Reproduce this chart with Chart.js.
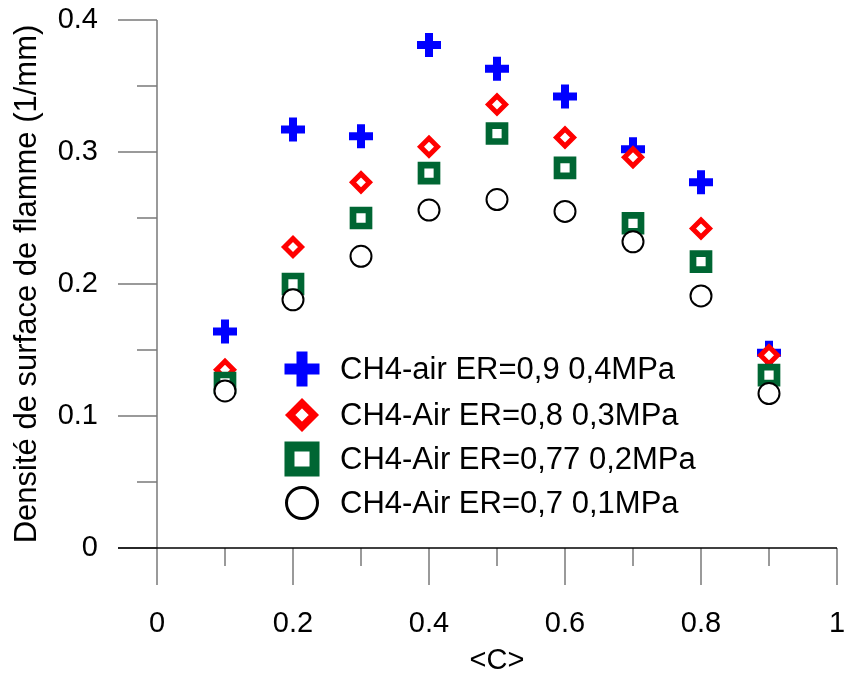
<!DOCTYPE html>
<html>
<head>
<meta charset="utf-8">
<script src="https://cdn.jsdelivr.net/npm/chart.js@4/dist/chart.umd.min.js"></script>
<style>
    body { margin: 0; background: #fff; }
    #wrap { width: 845px; height: 675px; }
</style>
</head>
<body>
<div id="wrap"><canvas id="grafica" width="845" height="675"></canvas></div>
<script>
// valeurs
const progres = [0.1, 0.2, 0.3, 0.4, 0.5, 0.6, 0.7, 0.8, 0.9];
const er09 = [0.164, 0.317, 0.312, 0.381, 0.363, 0.342, 0.302, 0.277, 0.148];
const er08 = [0.135, 0.228, 0.277, 0.304, 0.336, 0.311, 0.296, 0.242, 0.146];
const er077 = [0.125, 0.200, 0.250, 0.284, 0.314, 0.288, 0.246, 0.217, 0.131];
const er07 = [0.119, 0.188, 0.221, 0.256, 0.264, 0.255, 0.232, 0.191, 0.117];

const etiquettes = ['CH4-air ER=0,9 0,4MPa', 'CH4-Air ER=0,8 0,3MPa', 'CH4-Air ER=0,77 0,2MPa', 'CH4-Air ER=0,7 0,1MPa'];

const xTicks = [0, 0.2, 0.4, 0.6, 0.8, 1];
const xTickLabels = ['0', '0.2', '0.4', '0.6', '0.8', '1'];
const xMinor = [0.1, 0.3, 0.5, 0.7, 0.9];
const yTicks = [0, 0.1, 0.2, 0.3, 0.4];
const yTickLabels = ['0', '0.1', '0.2', '0.3', '0.4'];
const yMinor = [0.05, 0.15, 0.25, 0.35];

const police = "'Liberation Sans', Arial, sans-serif";
Chart.defaults.font.family = police;
Chart.defaults.color = '#000';

const points = (vals) => progres.map((x, i) => ({ x: x, y: vals[i] }));

const series = [
    { data: er09, style: 'cross', color: '#0000ff', r: 12, bw: 8, lr: 17.5, lbw: 11, order: 4 },
    { data: er08, style: 'rectRot', color: '#ff0000', r: 8.5, bw: 5, lr: 11.8, lbw: 7.4, order: 3 },
    { data: er077, style: 'rect', color: '#006633', r: 11.3, bw: 6.7, lr: 17.7, lbw: 10, order: 2 },
    { data: er07, style: 'circle', color: '#000000', r: 10.5, bw: 2, lr: 15.5, lbw: 3, order: 1 }
];

// axes et graduations dessinés à la main (graduations mineures plus courtes)
const axesPlugin = {
    id: 'axesPerso',
    beforeDatasetsDraw(chart) {
        const ctx = chart.ctx;
        const xs = chart.scales.x;
        const ys = chart.scales.y;
        const x0 = xs.getPixelForValue(0);
        const y0 = ys.getPixelForValue(0);
        ctx.save();
        ctx.strokeStyle = '#7a7a7a';
        ctx.lineWidth = 1.5;
        ctx.beginPath();
        ctx.moveTo(x0, ys.getPixelForValue(0.4));
        ctx.lineTo(x0, y0);
        yTicks.forEach(v => {
            const p = ys.getPixelForValue(v);
            ctx.moveTo(x0 - 39, p);
            ctx.lineTo(x0, p);
        });
        yMinor.forEach(v => {
            const p = ys.getPixelForValue(v);
            ctx.moveTo(x0 - 20, p);
            ctx.lineTo(x0, p);
        });
        xTicks.forEach(v => {
            const p = xs.getPixelForValue(v);
            ctx.moveTo(p, y0);
            ctx.lineTo(p, y0 + 37);
        });
        xMinor.forEach(v => {
            const p = xs.getPixelForValue(v);
            ctx.moveTo(p, y0);
            ctx.lineTo(p, y0 + 18);
        });
        ctx.stroke();
        ctx.strokeStyle = '#000';
        ctx.beginPath();
        ctx.moveTo(x0 - 39, y0);
        ctx.lineTo(xs.getPixelForValue(1), y0);
        ctx.stroke();
        ctx.restore();
    }
};

// légende dans la zone de tracé
const legendePlugin = {
    id: 'legendePerso',
    afterDraw(chart) {
        const ctx = chart.ctx;
        const lignes = [369, 415, 459, 503];
        ctx.save();
        series.forEach((s, i) => {
            ctx.strokeStyle = s.color;
            ctx.fillStyle = '#fff';
            ctx.lineWidth = s.lbw;
            Chart.helpers.drawPoint(ctx, { pointStyle: s.style, radius: s.lr, rotation: 0, borderWidth: s.lbw }, 302, lignes[i]);
            ctx.fillStyle = '#000';
            ctx.font = '31px ' + police;
            ctx.textAlign = 'left';
            ctx.textBaseline = 'middle';
            ctx.fillText(etiquettes[i], 340, lignes[i] + 1);
        });
        ctx.restore();
    }
};

const grafica = new Chart(document.getElementById('grafica'), {
    type: 'scatter',
    data: {
        datasets: series.map((s, i) => ({
            label: etiquettes[i],
            data: points(s.data),
            pointStyle: s.style,
            pointRadius: s.r,
            pointBorderWidth: s.bw,
            pointBorderColor: s.color,
            pointBackgroundColor: '#fff',
            pointHoverRadius: s.r,
            order: s.order,
            showLine: false
        }))
    },
    options: {
        responsive: false,
        animation: false,
        layout: { autoPadding: false, padding: { top: 20, right: 8, left: 0, bottom: 0 } },
        plugins: {
            legend: { display: false },
            tooltip: { enabled: false }
        },
        scales: {
            x: {
                type: 'linear',
                min: 0,
                max: 1,
                afterFit: (scale) => {
                    scale.height = 127;
                    scale.paddingLeft = 0;
                    scale.paddingRight = 0;
                },
                afterBuildTicks: (scale) => { scale.ticks = xTicks.map(v => ({ value: v })); },
                grid: { display: false, drawTicks: false },
                border: { display: false },
                ticks: {
                    padding: 59,
                    font: { size: 29 },
                    color: '#000',
                    maxRotation: 0,
                    callback: (v, i) => xTickLabels[i]
                },
                title: {
                    display: true,
                    text: '<C>',
                    font: { size: 29, lineHeight: 1 },
                    color: '#000',
                    padding: 0
                }
            },
            y: {
                type: 'linear',
                min: 0,
                max: 0.4,
                afterFit: (scale) => {
                    scale.width = 157;
                    scale.paddingTop = 0;
                    scale.paddingBottom = 0;
                },
                afterBuildTicks: (scale) => { scale.ticks = yTicks.map(v => ({ value: v })); },
                grid: { display: false, drawTicks: false },
                border: { display: false },
                ticks: {
                    padding: 59,
                    font: { size: 29 },
                    color: '#000',
                    callback: (v, i) => yTickLabels[i]
                },
                title: {
                    display: true,
                    text: 'Densité de surface de flamme (1/mm)',
                    font: { size: 31, lineHeight: 1.2 },
                    color: '#000',
                    padding: { top: 9, bottom: 0 }
                }
            }
        }
    },
    plugins: [axesPlugin, legendePlugin]
});
</script>
</body>
</html>
